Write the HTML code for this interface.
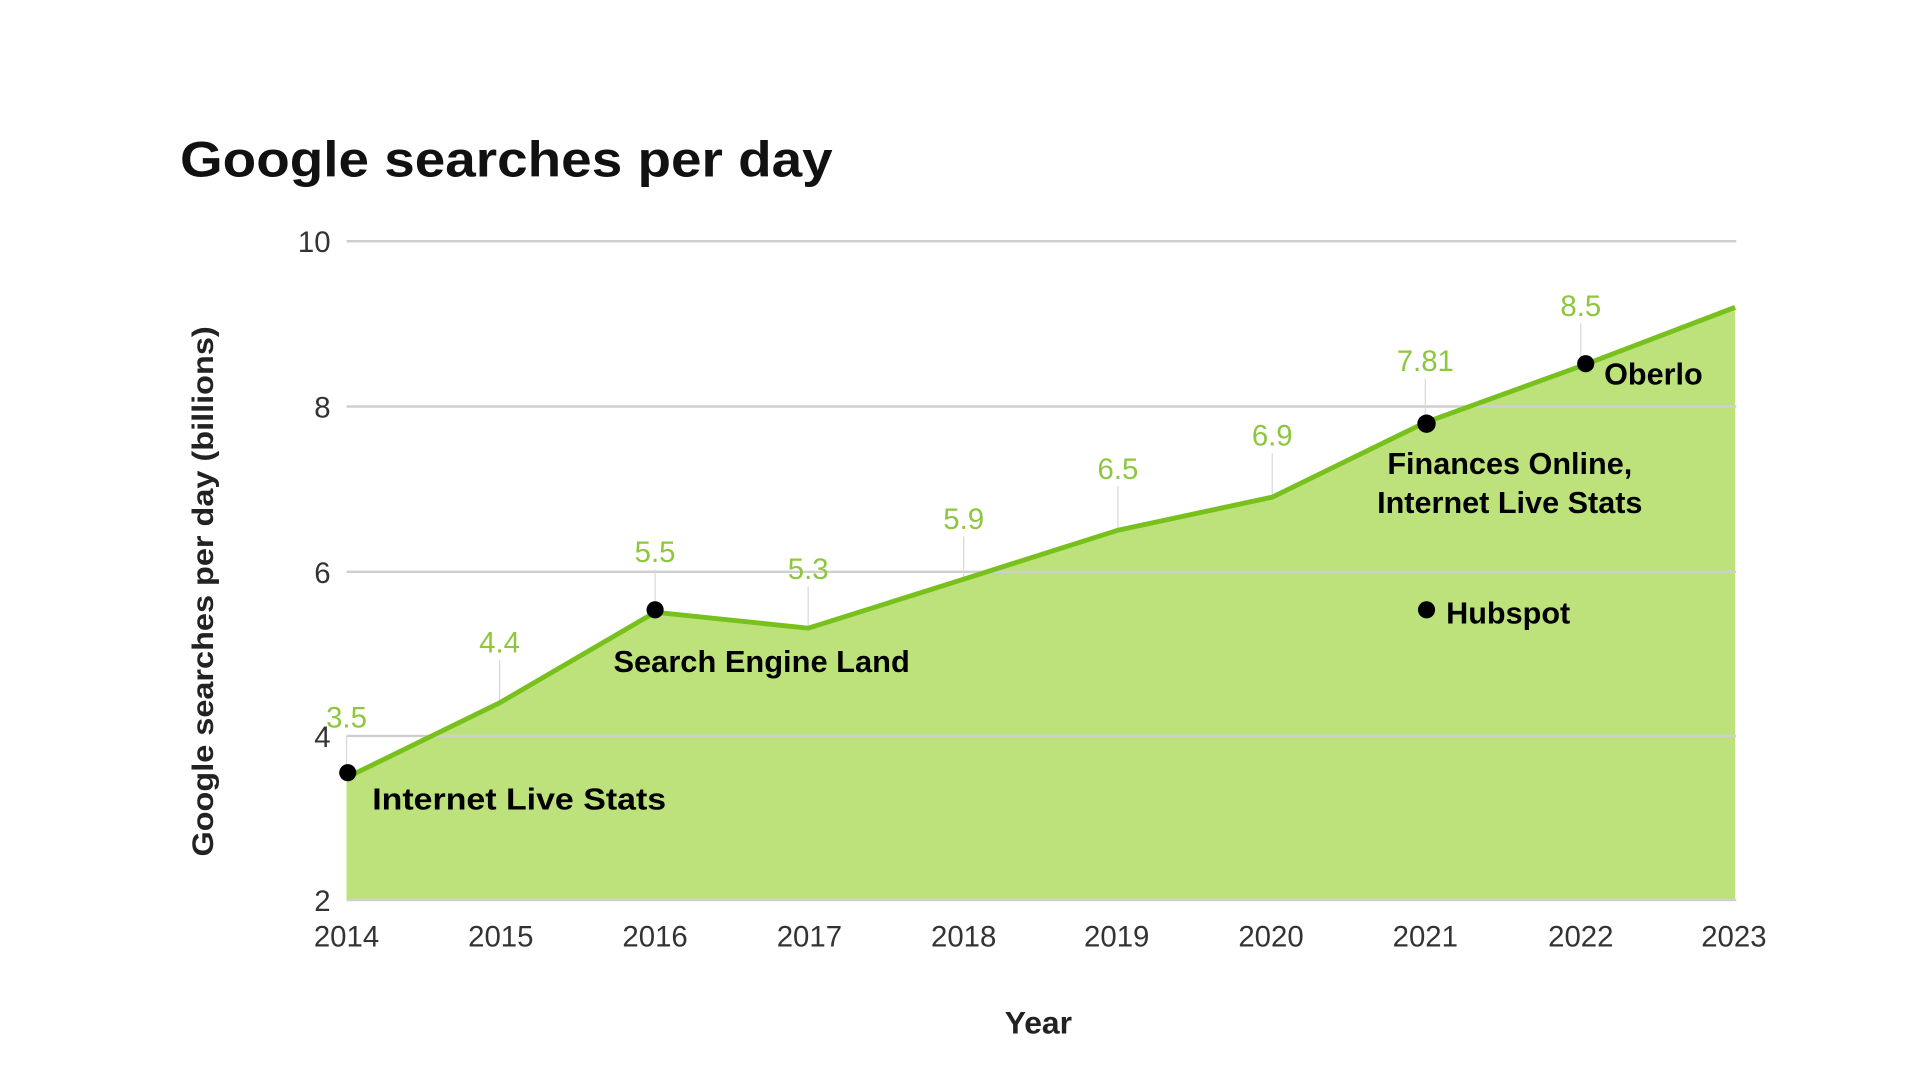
<!DOCTYPE html>
<html><head><meta charset="utf-8"><style>html,body{margin:0;padding:0;background:#fff;width:1920px;height:1080px;overflow:hidden}</style></head>
<body>
<svg width="1920" height="1080" viewBox="0 0 1568 880" xmlns="http://www.w3.org/2000/svg" font-family="Liberation Sans, Arial, sans-serif">
<rect width="1568" height="880" fill="#fff"/>
<text x="147" y="143" font-size="41" font-weight="bold" fill="#111" textLength="533" lengthAdjust="spacingAndGlyphs">Google searches per day</text>
<polygon points="283,634 408,573 535,499 660,512 787,472 913,432 1039,405 1164,344 1291,298 1417,250 1417,734 283,734" fill="#bde27c"/>
<g stroke="#cfcfcf" stroke-width="2">
<line x1="283" y1="196" x2="1418" y2="196"/>
<line x1="283" y1="331" x2="1418" y2="331"/>
<line x1="283" y1="466" x2="1418" y2="466"/>
<line x1="283" y1="600" x2="1418" y2="600"/>
<line x1="283" y1="734" x2="1418" y2="734"/>
</g>
<g stroke="#d8d8d8" stroke-width="1">
<line x1="283" y1="600" x2="283" y2="630"/>
<line x1="408" y1="538" x2="408" y2="573"/>
<line x1="535" y1="464" x2="535" y2="499"/>
<line x1="660" y1="478" x2="660" y2="512"/>
<line x1="787" y1="437" x2="787" y2="472"/>
<line x1="913" y1="396" x2="913" y2="432"/>
<line x1="1039" y1="369" x2="1039" y2="405"/>
<line x1="1164" y1="308" x2="1164" y2="344"/>
<line x1="1291" y1="263" x2="1291" y2="298"/>
</g>
<polyline points="283,634 408,573 535,499 660,512 787,472 913,432 1039,405 1164,344 1291,298 1417,250" fill="none" stroke="#78c11c" stroke-width="4"/>
<g font-size="24" fill="#8dc63f" text-anchor="middle">
<text x="283" y="593">3.5</text>
<text x="408" y="532">4.4</text>
<text x="535" y="458">5.5</text>
<text x="660" y="472">5.3</text>
<text x="787" y="431">5.9</text>
<text x="913" y="390">6.5</text>
<text x="1039" y="363">6.9</text>
<text x="1164" y="302">7.81</text>
<text x="1291" y="257">8.5</text>
</g>
<g font-size="24" fill="#333" text-anchor="end">
<text x="270" y="205">10</text>
<text x="270" y="340">8</text>
<text x="270" y="475">6</text>
<text x="270" y="609">4</text>
<text x="270" y="743">2</text>
</g>
<g font-size="24" fill="#333" text-anchor="middle">
<text x="283" y="772">2014</text><text x="409" y="772">2015</text><text x="535" y="772">2016</text><text x="661" y="772">2017</text><text x="787" y="772">2018</text><text x="912" y="772">2019</text><text x="1038" y="772">2020</text><text x="1164" y="772">2021</text><text x="1291" y="772">2022</text><text x="1416" y="772">2023</text>
</g>
<text x="848" y="843" font-size="26" font-weight="bold" fill="#222" text-anchor="middle">Year</text>
<text transform="translate(174,482) rotate(-90)" font-size="24" font-weight="bold" fill="#222" text-anchor="middle" textLength="433" lengthAdjust="spacingAndGlyphs">Google searches per day (billions)</text>
<g fill="#000">
<circle cx="284" cy="630" r="7"/>
<circle cx="535" cy="497" r="7"/>
<circle cx="1165" cy="345" r="7.5"/>
<circle cx="1295" cy="296" r="7"/>
<circle cx="1165" cy="497" r="7"/>
</g>
<g font-size="25" font-weight="bold" fill="#000">
<text x="304" y="660" textLength="240" lengthAdjust="spacingAndGlyphs">Internet Live Stats</text>
<text x="501" y="548" textLength="242" lengthAdjust="spacingAndGlyphs">Search Engine Land</text>
<text x="1233" y="386" text-anchor="middle">Finances Online,</text>
<text x="1233" y="418" text-anchor="middle">Internet Live Stats</text>
<text x="1181" y="508">Hubspot</text>
<text x="1310" y="313">Oberlo</text>
</g>
</svg>
</body></html>
